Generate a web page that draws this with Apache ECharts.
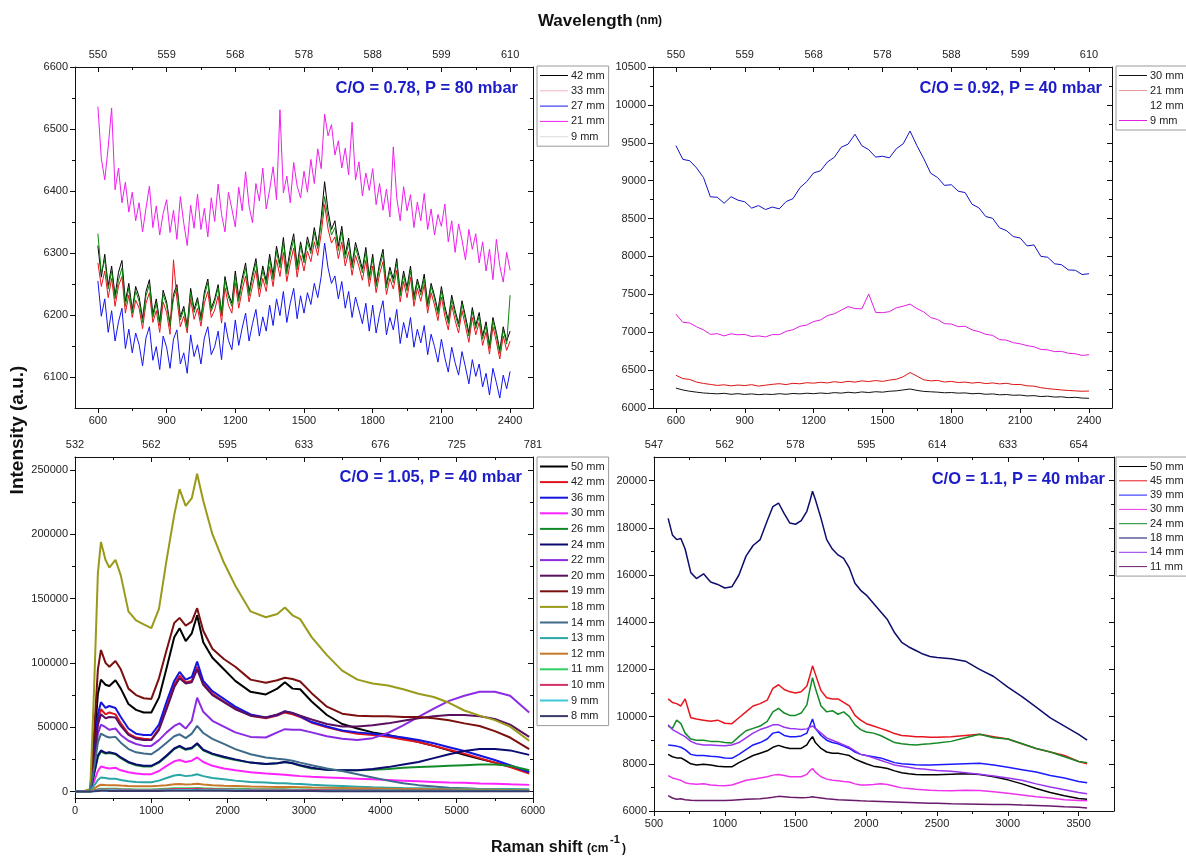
<!DOCTYPE html>
<html>
<head>
<meta charset="utf-8">
<title>Raman spectra</title>
<script src="https://cdn.jsdelivr.net/npm/echarts@6/dist/echarts.min.js"></script>
<style>
  html, body { margin: 0; padding: 0; background: #fff; }
  #chart { width: 1186px; height: 857px; }
</style>
</head>
<body>
<div id="chart"></div>
<script>
// ---------- data ----------
// panel A: C/O = 0.78, P = 80 mbar
const shiftA = [600, 615, 630, 645, 660, 675, 690, 705, 720, 735,
  750, 765, 780, 795, 810, 825, 840, 855, 870, 885,
  900, 915, 930, 945, 960, 975, 990, 1005, 1020, 1035,
  1050, 1065, 1080, 1095, 1110, 1125, 1140, 1155, 1170, 1185,
  1200, 1215, 1230, 1245, 1260, 1275, 1290, 1305, 1320, 1335,
  1350, 1365, 1380, 1395, 1410, 1425, 1440, 1455, 1470, 1485,
  1500, 1515, 1530, 1545, 1560, 1575, 1590, 1605, 1620, 1635,
  1650, 1665, 1680, 1695, 1710, 1725, 1740, 1755, 1770, 1785,
  1800, 1815, 1830, 1845, 1860, 1875, 1890, 1905, 1920, 1935,
  1950, 1965, 1980, 1995, 2010, 2025, 2040, 2055, 2070, 2085,
  2100, 2115, 2130, 2145, 2160, 2175, 2190, 2205, 2220, 2235,
  2250, 2265, 2280, 2295, 2310, 2325, 2340, 2355, 2370, 2385,
  2400];
const a42 = [6312, 6261, 6298, 6247, 6279, 6231, 6269, 6288, 6222, 6251,
  6208, 6246, 6229, 6194, 6238, 6257, 6201, 6226, 6189, 6240,
  6221, 6186, 6233, 6249, 6197, 6214, 6182, 6243, 6209, 6228,
  6196, 6237, 6258, 6211, 6226, 6249, 6203, 6262, 6234, 6219,
  6271, 6228, 6259, 6284, 6237, 6266, 6291, 6246, 6279, 6255,
  6298, 6264, 6311, 6282, 6325, 6272, 6306, 6331, 6279, 6318,
  6289, 6326, 6304, 6341, 6312, 6356, 6415, 6368, 6338, 6352,
  6311, 6343, 6298, 6324, 6281, 6317, 6296, 6274, 6309, 6262,
  6298, 6251, 6283, 6306, 6249, 6277, 6258, 6291, 6236, 6271,
  6244, 6279, 6229, 6258, 6237, 6266, 6218, 6251, 6231, 6206,
  6246, 6214, 6191, 6232, 6207, 6186, 6223, 6198, 6171, 6212,
  6183, 6204, 6166, 6189, 6151, 6196, 6172, 6143, 6181, 6158,
  6174];
const a33 = [6284, 6246, 6271, 6228, 6259, 6214, 6247, 6262, 6203, 6232,
  6196, 6224, 6211, 6178, 6219, 6236, 6188, 6207, 6172, 6221,
  6204, 6169, 6289, 6226, 6181, 6198, 6171, 6226, 6193, 6211,
  6182, 6219, 6238, 6196, 6208, 6231, 6187, 6244, 6216, 6203,
  6252, 6211, 6240, 6263, 6221, 6247, 6272, 6229, 6259, 6238,
  6278, 6246, 6289, 6262, 6301, 6254, 6284, 6308, 6261, 6296,
  6271, 6303, 6286, 6318, 6296, 6331, 6378, 6339, 6316, 6326,
  6291, 6318, 6279, 6302, 6264, 6296, 6278, 6256, 6288, 6246,
  6279, 6236, 6266, 6286, 6233, 6259, 6242, 6272, 6221, 6254,
  6228, 6261, 6214, 6243, 6222, 6249, 6203, 6236, 6216, 6191,
  6229, 6198, 6176, 6216, 6191, 6171, 6207, 6182, 6156, 6196,
  6168, 6188, 6151, 6173, 6137, 6181, 6157, 6129, 6166, 6143,
  6158];
const a27 = [6255, 6198, 6226, 6172, 6207, 6158, 6189, 6211, 6146, 6177,
  6139, 6171, 6152, 6118, 6163, 6181, 6127, 6149, 6112, 6166,
  6148, 6114, 6161, 6176, 6121, 6139, 6106, 6168, 6133, 6152,
  6121, 6163, 6181, 6136, 6149, 6174, 6128, 6188, 6159, 6144,
  6192, 6151, 6179, 6203, 6158, 6186, 6209, 6166, 6197, 6174,
  6216, 6183, 6226, 6199, 6238, 6188, 6219, 6243, 6194, 6231,
  6203, 6236, 6217, 6251, 6228, 6262, 6316, 6276, 6251, 6263,
  6226, 6254, 6211, 6238, 6196, 6229, 6208, 6186, 6219, 6174,
  6216, 6171, 6201, 6223, 6168, 6196, 6176, 6209, 6154, 6188,
  6163, 6196, 6148, 6177, 6155, 6183, 6136, 6169, 6149, 6124,
  6161, 6131, 6108, 6148, 6123, 6103, 6141, 6116, 6089, 6128,
  6101, 6121, 6084, 6106, 6071, 6114, 6091, 6066, 6103, 6081,
  6109];
const a21 = [6536, 6452, 6418, 6471, 6534, 6402, 6437, 6381, 6414, 6366,
  6398, 6352, 6381, 6334, 6372, 6408, 6341, 6376, 6329, 6364,
  6386, 6333, 6369, 6322, 6391, 6348, 6312, 6377, 6340, 6395,
  6338, 6372, 6326, 6389, 6351, 6411, 6362, 6334, 6398, 6371,
  6342, 6406, 6368, 6431, 6376, 6349, 6412, 6384, 6437, 6371,
  6402, 6439, 6386, 6531, 6397, 6424, 6381, 6446, 6408, 6389,
  6432, 6398, 6451, 6412, 6468, 6436, 6524, 6489, 6507, 6458,
  6481, 6437, 6469, 6426, 6511, 6418, 6447, 6392, 6429, 6401,
  6436, 6378, 6412, 6369, 6403, 6358, 6471, 6389, 6352, 6407,
  6368, 6394, 6341, 6382, 6352, 6396, 6338, 6371, 6329, 6362,
  6343, 6379, 6318, 6352, 6301, 6347, 6321, 6289, 6338, 6306,
  6331, 6284, 6318, 6271, 6306, 6257, 6322, 6279, 6253, 6301,
  6272];
const a9 = [6331, 6268, 6289, 6242, 6271, 6226, 6256, 6276, 6214, 6244,
  6203, 6239, 6222, 6188, 6231, 6249, 6196, 6219, 6183, 6233,
  6216, 6181, 6227, 6243, 6192, 6209, 6178, 6237, 6204, 6223,
  6191, 6231, 6252, 6206, 6221, 6244, 6199, 6256, 6229, 6214,
  6263, 6222, 6252, 6276, 6231, 6259, 6284, 6241, 6272, 6249,
  6291, 6257, 6303, 6276, 6317, 6266, 6298, 6322, 6273, 6311,
  6284, 6318, 6299, 6333, 6307, 6348, 6391, 6356, 6329, 6341,
  6304, 6334, 6291, 6316, 6276, 6309, 6289, 6268, 6301, 6257,
  6291, 6246, 6277, 6298, 6244, 6271, 6252, 6284, 6231, 6264,
  6239, 6272, 6224, 6253, 6232, 6259, 6213, 6246, 6226, 6201,
  6239, 6208, 6186, 6226, 6201, 6181, 6218, 6192, 6166, 6206,
  6178, 6198, 6161, 6183, 6146, 6191, 6167, 6138, 6176, 6153,
  6232];

// panel B: C/O = 0.92, P = 40 mbar
const shiftB = [600, 630, 660, 690, 720, 750, 780, 810, 840, 870,
  900, 930, 960, 990, 1020, 1050, 1080, 1110, 1140, 1170,
  1200, 1230, 1260, 1290, 1320, 1350, 1380, 1410, 1440, 1470,
  1500, 1530, 1560, 1590, 1620, 1650, 1680, 1710, 1740, 1770,
  1800, 1830, 1860, 1890, 1920, 1950, 1980, 2010, 2040, 2070,
  2100, 2130, 2160, 2190, 2220, 2250, 2280, 2310, 2340, 2370,
  2400];
const b30 = [6262, 6238, 6221, 6209, 6198, 6192, 6187, 6194, 6181, 6189,
  6179, 6186, 6176, 6183, 6178, 6189, 6181, 6192, 6186, 6195,
  6189, 6198, 6191, 6203, 6196, 6208, 6199, 6212, 6204, 6215,
  6209, 6221, 6226, 6238, 6251, 6232, 6219, 6214, 6209, 6201,
  6204, 6196, 6199, 6188, 6193, 6181, 6186, 6174, 6178, 6168,
  6171, 6159, 6163, 6151, 6156, 6144, 6148, 6137, 6141, 6131,
  6128];
const b21 = [6432, 6388, 6377, 6342, 6324, 6311, 6298, 6306, 6292, 6303,
  6296, 6308, 6289, 6301, 6312, 6321, 6309, 6326, 6319, 6334,
  6328, 6339, 6331, 6347, 6336, 6352, 6341, 6358, 6349, 6362,
  6351, 6368, 6379, 6412, 6468, 6421, 6372, 6358, 6364, 6343,
  6351, 6336, 6342, 6329, 6338, 6322, 6331, 6318, 6326, 6309,
  6311, 6292, 6289, 6268, 6256, 6247, 6238, 6231, 6226, 6221,
  6224];
const b12 = [9462, 9281, 9263, 9168, 9041, 8787, 8781, 8702, 8788, 8743,
  8721, 8638, 8671, 8619, 8652, 8628, 8724, 8763, 8906, 8988,
  9102, 9131, 9246, 9308, 9441, 9482, 9612, 9461, 9409, 9311,
  9322, 9301, 9421, 9486, 9655, 9462, 9289, 9098, 9041, 8938,
  8946, 8861, 8843, 8689, 8641, 8527, 8503, 8378, 8341, 8262,
  8243, 8139, 8152, 8001, 7989, 7903, 7891, 7822, 7818, 7761,
  7772];
const b9 = [7238, 7131, 7122, 7071, 7031, 6972, 6981, 6952, 6979, 6966,
  6971, 6943, 6951, 6938, 6969, 6968, 7012, 7033, 7079, 7094,
  7141, 7162, 7219, 7243, 7291, 7338, 7312, 7309, 7505, 7262,
  7258, 7271, 7322, 7343, 7371, 7312, 7268, 7193, 7168, 7113,
  7108, 7073, 7079, 7032, 7008, 6973, 6958, 6902, 6896, 6862,
  6847, 6823, 6808, 6773, 6767, 6744, 6748, 6722, 6716, 6694,
  6703];

// panel C: C/O = 1.05, P = 40 mbar
const shiftC = [0, 100, 200, 250, 300, 340, 400, 450, 530, 600,
  700, 800, 900, 1000, 1100, 1200, 1300, 1370, 1450, 1530,
  1600, 1680, 1800, 1950, 2100, 2300, 2500, 2650, 2750, 2850,
  2950, 3100, 3300, 3500, 3700, 3900, 4100, 4300, 4500, 4700,
  4900, 5100, 5300, 5500, 5700, 5950];
const c50 = [0, 0, 800, 36000, 76000, 87000, 83000, 82000, 86500, 80000,
  68000, 63500, 61500, 61500, 73000, 96000, 120000, 127000, 117000, 123000,
  137000, 116000, 104000, 95000, 86000, 77500, 75500, 80000, 85000, 80000,
  79500, 70000, 59500, 52500, 49000, 46000, 44000, 41500, 38500, 35500,
  32000, 28500, 25500, 22500, 19500, 15500];
const c42 = [0, 0, 500, 25000, 55000, 64000, 60000, 61500, 60000, 53000,
  45000, 42000, 41000, 40500, 49000, 66000, 83000, 90000, 85000, 86000,
  97000, 84000, 76000, 70000, 64500, 59000, 57000, 59000, 61500, 60000,
  58000, 53500, 50000, 47000, 45000, 44000, 42500, 40500, 38500, 35500,
  32500, 29500, 26000, 22500, 19000, 14000];
const c36 = [0, 0, 600, 28000, 60000, 69500, 65000, 66500, 65000, 58000,
  49000, 45000, 44000, 44000, 52000, 70000, 86000, 93000, 87000, 89000,
  101000, 86000, 78000, 72000, 66000, 60000, 57500, 59500, 62500, 61000,
  58500, 54000, 50500, 47500, 46000, 45000, 43500, 42000, 40000, 37500,
  34500, 31500, 28000, 24500, 20500, 15000];
const c30 = [0, 0, 200, 8000, 16000, 19500, 18500, 18000, 18500, 16500,
  15000, 14000, 13500, 13500, 16000, 20000, 23500, 24500, 23000, 24000,
  26500, 23000, 20000, 18000, 16500, 15000, 14000, 13500, 13000, 12500,
  12000, 11500, 11000, 10500, 10000, 9500, 9000, 8500, 8000, 7500,
  7000, 6800, 6300, 6000, 5600, 5200];
const c26 = [0, 0, 300, 13500, 27000, 31000, 29500, 30000, 29000, 26000,
  22500, 20500, 19500, 19500, 22500, 27500, 33000, 35000, 32500, 33500,
  37000, 32000, 29000, 26500, 24500, 22500, 21500, 22000, 23000, 22000,
  20000, 18000, 17000, 16500, 16500, 17000, 17500, 18500, 19000, 19500,
  20000, 20500, 21000, 21000, 20000, 16500];
const c24 = [0, 0, 300, 14000, 28000, 32000, 30000, 30500, 29500, 26500,
  23000, 21000, 20000, 20000, 23000, 28000, 33500, 35500, 33000, 34000,
  37500, 32500, 29500, 27000, 25000, 22500, 21500, 22000, 23000, 22000,
  20500, 18500, 17000, 16500, 16500, 17500, 19000, 21000, 23000, 26000,
  29000, 31500, 33000, 33000, 32000, 28500];
const c22 = [0, 0, 500, 22000, 45000, 52000, 50000, 48000, 49000, 44000,
  39500, 37000, 35500, 35500, 40000, 46000, 51000, 53000, 49000, 55000,
  73000, 62000, 55000, 50500, 46000, 42500, 42000, 46000, 48500, 48000,
  48000, 46000, 43000, 41000, 40000, 41500, 45500, 51500, 58000, 64500,
  70500, 74500, 77500, 77500, 74500, 61500];
const c20 = [0, 0, 500, 23000, 52000, 60000, 57000, 58000, 57500, 51000,
  44000, 41000, 40000, 40000, 48000, 64000, 81000, 88000, 84000, 85000,
  95000, 83000, 75000, 69500, 64000, 59000, 57500, 60000, 62000, 61000,
  59000, 56000, 52500, 50500, 50500, 51500, 53000, 55000, 57000, 58500,
  59500, 59500, 58500, 56500, 52000, 42500];
const c19 = [0, 0, 1000, 45000, 95000, 110000, 100000, 97000, 101500, 95000,
  80000, 75000, 72500, 72000, 88000, 110000, 131000, 135000, 129000, 132000,
  142500, 125000, 111000, 103000, 97000, 87000, 84500, 86500, 88500, 87500,
  85500, 76500, 66000, 60500, 59000, 58500, 58500, 58000, 58000, 57000,
  55500, 53000, 51000, 47000, 42000, 33000];
const c18 = [0, 0, 2000, 80000, 170000, 194000, 180000, 174000, 180000, 168000,
  140000, 133000, 130000, 127000, 142000, 180000, 215000, 235000, 222000, 228000,
  247000, 226000, 200000, 178000, 160000, 140000, 135500, 138000, 143000, 137000,
  134000, 120000, 106000, 94000, 87000, 84000, 82500, 79500, 76000, 73500,
  69000, 63000, 59000, 55500, 50500, 39500];
const c14 = [0, 0, 400, 18000, 38000, 45000, 43000, 42000, 42500, 38000,
  33000, 30500, 29500, 29000, 33000, 38000, 43000, 44500, 41500, 45000,
  51000, 45500, 41000, 37000, 33000, 29000, 26500, 25500, 25000, 24000,
  22500, 20500, 18000, 16000, 13500, 11000, 8500, 6500, 5000, 4000,
  3000, 2500, 2000, 1800, 1500, 1300];
const c13 = [0, 0, 100, 4500, 9000, 11000, 10500, 10000, 10000, 9000,
  8000, 7500, 7200, 7200, 8500, 10500, 12500, 13000, 12000, 12500,
  13500, 12000, 10500, 9500, 8500, 7500, 7000, 6500, 6500, 6000,
  5800, 5300, 4800, 4300, 3800, 3300, 3000, 2700, 2500, 2300,
  2200, 2100, 2000, 2000, 1900, 1800];
const c12 = [0, 0, 50, 2200, 4300, 5300, 5100, 5000, 5000, 4700,
  4400, 4200, 4100, 4100, 4500, 5000, 5600, 5800, 5500, 5600,
  6000, 5500, 5000, 4600, 4300, 3900, 3700, 3600, 3600, 3500,
  3400, 3200, 3000, 2800, 2600, 2400, 2200, 2000, 1900, 1800,
  1700, 1600, 1500, 1400, 1300, 1300];
const c11 = [0, 0, 30, 900, 1800, 2200, 2100, 2100, 2100, 1900,
  1800, 1700, 1700, 1700, 1900, 2200, 2500, 2600, 2500, 2500,
  2700, 2500, 2300, 2200, 2100, 1900, 1800, 1800, 1800, 1700,
  1700, 1600, 1500, 1400, 1300, 1200, 1200, 1100, 1100, 1000,
  1000, 1000, 900, 900, 900, 800];
const c10 = [0, 0, 20, 700, 1400, 1700, 1600, 1600, 1600, 1500,
  1400, 1300, 1300, 1300, 1500, 1700, 1900, 2000, 1900, 1900,
  2100, 1900, 1800, 1700, 1600, 1500, 1400, 1400, 1400, 1300,
  1300, 1200, 1200, 1100, 1000, 1000, 900, 900, 800, 800,
  800, 700, 700, 700, 600, 600];
const c9 = [0, 0, 10, 400, 900, 1100, 1000, 1000, 1000, 900,
  900, 800, 800, 800, 900, 1100, 1200, 1300, 1200, 1200,
  1300, 1200, 1100, 1000, 1000, 900, 900, 800, 800, 800,
  800, 700, 700, 700, 600, 600, 600, 500, 500, 500,
  500, 500, 400, 400, 400, 400];
const c8 = [0, 0, 10, 200, 500, 600, 600, 500, 500, 500,
  500, 400, 400, 400, 500, 600, 700, 700, 700, 700,
  800, 700, 600, 600, 500, 500, 500, 400, 400, 400,
  400, 400, 300, 300, 300, 300, 300, 300, 200, 200,
  200, 200, 200, 200, 200, 200];

// panel D: C/O = 1.1, P = 40 mbar
const shiftD = [600, 630, 660, 690, 720,
  760, 800, 850, 900, 950,
  1000, 1050, 1100, 1150, 1200,
  1250, 1300, 1340, 1380, 1420,
  1460, 1500, 1540, 1580, 1600,
  1620, 1640, 1680, 1720, 1760,
  1800, 1840, 1880, 1920, 1960,
  2000, 2050, 2100, 2150, 2200,
  2250, 2300, 2350, 2400, 2450,
  2500, 2600, 2700, 2800, 2900,
  3000, 3100, 3200, 3300, 3400,
  3500, 3560];
const d50 = [8400, 8300, 8250, 8250, 8150,
  8000, 7950, 7980, 7950, 7900,
  7870, 7870, 8050, 8200, 8350,
  8450, 8550, 8700, 8780, 8700,
  8650, 8650, 8650, 8800, 9000,
  9150, 8900, 8650, 8500, 8450,
  8450, 8400, 8350, 8200, 8100,
  8000, 7900, 7850, 7800, 7700,
  7620, 7580, 7550, 7540, 7540,
  7540, 7560, 7580, 7550, 7450,
  7320, 7150, 6950, 6780, 6650,
  6530, 6500];
const d45 = [10750, 10600, 10550, 10450, 10750,
  9950, 9900, 9850, 9800, 9850,
  9720, 9700, 9950, 10200, 10450,
  10550, 10700, 11200, 11350, 11150,
  11050, 11000, 11050, 11300, 11700,
  12150, 11800, 11100, 10800, 10750,
  10750, 10600, 10450, 10050, 9850,
  9700, 9600, 9500, 9400, 9280,
  9200, 9180, 9150, 9150, 9130,
  9120, 9150, 9200, 9250, 9150,
  9050, 8850, 8650, 8500, 8350,
  8100, 8000];
const d39 = [8800, 8780, 8750, 8700, 8600,
  8400, 8350, 8350, 8320, 8300,
  8250, 8230, 8400, 8600, 8800,
  8900, 9050, 9300, 9350, 9200,
  9150, 9150, 9180, 9300, 9600,
  9900, 9500, 9200, 9000, 8900,
  8850, 8750, 8650, 8500, 8400,
  8350, 8300, 8250, 8150, 8050,
  8000, 7980, 7960, 7950, 7950,
  7960, 7980, 8000, 8020, 7950,
  7850, 7750, 7650, 7500, 7400,
  7250, 7200];
const d30 = [7500, 7400, 7350, 7300, 7200,
  7150, 7130, 7150, 7100, 7080,
  7070, 7100, 7200, 7300, 7350,
  7400, 7450, 7520, 7550, 7500,
  7450, 7450, 7450, 7550, 7700,
  7800, 7650, 7450, 7350, 7300,
  7280, 7250, 7230, 7150, 7100,
  7100, 7120, 7150, 7120, 7050,
  6980, 6950, 6920, 6900, 6880,
  6870, 6860, 6880, 6870, 6820,
  6750, 6680, 6600, 6550, 6480,
  6450, 6430];
const d24 = [9600, 9500, 9850, 9700, 9300,
  9050, 9000, 9000, 8950, 8950,
  8900, 8880, 9150, 9400, 9500,
  9600, 9800, 10200, 10350, 10150,
  10050, 10050, 10150, 10500, 11100,
  11650, 11200, 10450, 10200, 10250,
  10100, 10200, 10000, 9650, 9450,
  9350, 9300, 9200, 9050, 8900,
  8850, 8820, 8800, 8830, 8850,
  8880, 8950, 9100, 9250, 9100,
  9050, 8850, 8650, 8500, 8300,
  8100, 8050];
const d18 = [18400, 17700, 17500, 17550, 17100,
  16100, 15850, 16050, 15700, 15600,
  15450, 15500, 16000, 16800, 17250,
  17500, 18300, 18900, 19050, 18600,
  18200, 18150, 18300, 18700, 19100,
  19550, 19200, 18400, 17500, 17100,
  16850, 16700, 16300, 15650, 15350,
  15150, 14800, 14450, 14100, 13550,
  13150, 12950, 12800, 12650, 12550,
  12500, 12450, 12350, 12000, 11700,
  11250, 10850, 10400, 9950, 9600,
  9250, 9000];
const d14 = [9650, 9450, 9350, 9250, 9150,
  8950, 8850, 8800, 8800, 8780,
  8760, 8800, 8900, 9100, 9300,
  9450, 9550, 9650, 9650, 9550,
  9500, 9480, 9450, 9480, 9550,
  9600, 9500, 9300, 9100, 9000,
  8900, 8800, 8700, 8550, 8400,
  8350, 8250, 8150, 8050, 7950,
  7900, 7850, 7800, 7780, 7750,
  7720, 7680, 7620, 7560, 7480,
  7400, 7300, 7150, 7020, 6900,
  6780, 6730];
const d11 = [6650, 6550, 6500, 6520, 6480,
  6460, 6450, 6440, 6440, 6450,
  6440, 6460, 6480, 6500, 6510,
  6520, 6550, 6580, 6620, 6600,
  6580, 6570, 6560, 6570, 6580,
  6600, 6580, 6550, 6520, 6500,
  6480, 6470, 6460, 6450, 6430,
  6420, 6410, 6400, 6390, 6380,
  6370, 6360, 6350, 6340, 6330,
  6330, 6310, 6300, 6290, 6280,
  6280, 6250, 6230, 6210, 6180,
  6160, 6130];

// tick labels
const ticksAB = [600, 900, 1200, 1500, 1800, 2100, 2400];
const waveAB = ['550', '559', '568', '578', '588', '599', '610'];
const ticksC = [0, 1000, 2000, 3000, 4000, 5000, 6000];
const waveC = ['532', '562', '595', '633', '676', '725', '781'];
const ticksD = [500, 1000, 1500, 2000, 2500, 3000, 3500];
const waveD = ['547', '562', '578', '595', '614', '633', '654'];
const yTicksA = [6100, 6200, 6300, 6400, 6500, 6600];
const yTicksB = [6000, 6500, 7000, 7500, 8000, 8500, 9000, 9500, 10000, 10500];
const yTicksC = [0, 50000, 100000, 150000, 200000, 250000];
const yTicksD = [6000, 8000, 10000, 12000, 14000, 16000, 18000, 20000];

// ---------- layout ----------
const FONT = "'Liberation Sans', Arial, Helvetica, sans-serif";
const INK = '#111';

// legend icons that are drawn faintly in the original figure
const faintKey = { 'A|33 mm': '#f3b5bd', 'A|9 mm': '#dcdcdc', 'B|21 mm': '#e79a9a', 'B|12 mm': '#ffffff' };

const panels = [
  {
    tag: 'A', grid: { left: 75, top: 67, width: 458, height: 341 },
    x: [500, 2500], xTicks: ticksAB, wave: waveAB,
    y: [6050, 6600], yTicks: yTicksA,
    legend: { left: 537, top: 66, gap: 2.3 }, width: 1,
    note: { text: 'C/O = 0.78, P = 80 mbar', x: 518, y: 88 },
    lines: [
      ['42 mm', '#000000', shiftA, a42],
      ['33 mm', '#e8141e', shiftA, a33],
      ['27 mm', '#1414f0', shiftA, a27],
      ['21 mm', '#ee1fee', shiftA, a21],
      ['9 mm', '#0b860b', shiftA, a9],
    ],
  },
  {
    tag: 'B', grid: { left: 653, top: 67, width: 459, height: 341 },
    x: [500, 2500], xTicks: ticksAB, wave: waveAB,
    y: [6000, 10500], yTicks: yTicksB,
    legend: { left: 1116, top: 66, gap: 2 }, width: 1,
    note: { text: 'C/O = 0.92, P = 40 mbar', x: 1102, y: 88 },
    lines: [
      ['30 mm', '#111111', shiftB, b30],
      ['21 mm', '#dd1414', shiftB, b21],
      ['12 mm', '#1212c4', shiftB, b12],
      ['9 mm', '#e01fe0', shiftB, b9],
    ],
  },
  {
    tag: 'C', grid: { left: 75, top: 457, width: 458, height: 341 },
    x: [0, 6000], xTicks: ticksC, wave: waveC,
    y: [-5000, 260000], yTicks: yTicksC,
    legend: { left: 537, top: 457, gap: 2.6 }, width: 2,
    note: { text: 'C/O = 1.05, P = 40 mbar', x: 522, y: 477 },
    lines: [
      ['50 mm', '#000000', shiftC, c50],
      ['42 mm', '#e0141e', shiftC, c42],
      ['36 mm', '#1515e0', shiftC, c36],
      ['30 mm', '#ff22ff', shiftC, c30],
      ['26 mm', '#138a2a', shiftC, c26],
      ['24 mm', '#0a0a70', shiftC, c24],
      ['22 mm', '#8b2be2', shiftC, c22],
      ['20 mm', '#5a0f5f', shiftC, c20],
      ['19 mm', '#7a0f10', shiftC, c19],
      ['18 mm', '#9a9a1a', shiftC, c18],
      ['14 mm', '#3e6a8a', shiftC, c14],
      ['13 mm', '#2aa6a6', shiftC, c13],
      ['12 mm', '#c8782a', shiftC, c12],
      ['11 mm', '#2fcf5f', shiftC, c11],
      ['10 mm', '#d4306a', shiftC, c10],
      ['9 mm', '#3ec8d8', shiftC, c9],
      ['8 mm', '#3a3a6a', shiftC, c8],
    ],
  },
  {
    tag: 'D', grid: { left: 654, top: 457, width: 460, height: 354 },
    x: [500, 3750], xTicks: ticksD, wave: waveD,
    y: [6000, 21000], yTicks: yTicksD,
    legend: { left: 1116, top: 457, gap: 1.3 }, width: 1.5,
    note: { text: 'C/O = 1.1, P = 40 mbar', x: 1105, y: 479 },
    lines: [
      ['50 mm', '#000000', shiftD, d50],
      ['45 mm', '#e8141e', shiftD, d45],
      ['39 mm', '#1a1aff', shiftD, d39],
      ['30 mm', '#ee33ee', shiftD, d30],
      ['24 mm', '#138a25', shiftD, d24],
      ['18 mm', '#0d0d6d', shiftD, d18],
      ['14 mm', '#9933ee', shiftD, d14],
      ['11 mm', '#6a1a6a', shiftD, d11],
    ],
  },
];

function midpoints(ticks, lo, hi) {
  const out = [];
  const step = ticks[1] - ticks[0];
  for (let i = 0; i <= ticks.length; i++) {
    const v = ticks[0] + (i - 0.5) * step;
    if (v > lo && v < hi) out.push(v);
  }
  return out;
}

const labelStyle = { color: '#222', fontSize: 11, fontFamily: FONT };

// every side gets a major and a minor axis, ticks out on bottom/left, in on top/right
function sideAxes(g, range, major, minor, pos, withLabels, formatter) {
  const inside = pos === 'top' || pos === 'right';
  const base = {
    type: 'value', gridIndex: g, position: pos, min: range[0], max: range[1],
    splitLine: { show: false }, silent: true,
  };
  return [
    Object.assign({}, base, {
      axisLine: { show: true, onZero: false, lineStyle: { color: INK, width: 1 } },
      axisTick: { show: true, inside, length: 5, customValues: major, lineStyle: { color: INK } },
      axisLabel: withLabels
        ? Object.assign({ show: true, margin: 7, customValues: major, formatter }, labelStyle)
        : { show: false },
    }),
    Object.assign({}, base, {
      axisLine: { show: false, onZero: false },
      axisTick: { show: true, inside, length: 3, customValues: minor, lineStyle: { color: INK } },
      axisLabel: { show: false },
    }),
  ];
}

const grids = [], xAxes = [], yAxes = [], series = [], legends = [], graphics = [];

panels.forEach((p, g) => {
  grids.push(Object.assign({ outerBoundsMode: 'none', containLabel: false }, p.grid));

  const xMinor = midpoints(p.xTicks, p.x[0], p.x[1]);
  const yMinor = midpoints(p.yTicks, p.y[0], p.y[1]);
  const waveOf = (v) => p.wave[p.xTicks.indexOf(v)];

  xAxes.push(...sideAxes(g, p.x, p.xTicks, xMinor, 'bottom', true, (v) => String(v)));
  xAxes.push(...sideAxes(g, p.x, p.xTicks, xMinor, 'top', true, waveOf));
  yAxes.push(...sideAxes(g, p.y, p.yTicks, yMinor, 'left', true, (v) => String(v)));
  yAxes.push(...sideAxes(g, p.y, p.yTicks, yMinor, 'right', false));

  const keys = [];
  p.lines.forEach(([name, color, xs, ys]) => {
    const id = p.tag + '|' + name;
    keys.push(faintKey[id] ? { name: id, itemStyle: { color: faintKey[id] } } : { name: id });
    series.push({
      type: 'line', name: id,
      xAxisIndex: g * 4, yAxisIndex: g * 4,
      data: xs.map((x, i) => [x, ys[i]]),
      symbol: 'none', showSymbol: false,
      lineStyle: { color, width: p.width },
      itemStyle: { color },
      emphasis: { disabled: true },
      silent: true,
      animation: false,
    });
  });

  legends.push({
    left: p.legend.left, top: p.legend.top,
    orient: 'vertical', data: keys, selectedMode: false,
    formatter: (n) => n.split('|')[1],
    icon: 'rect', itemWidth: 28, itemHeight: p.width > 1.5 ? 2 : 1,
    backgroundColor: '#fff', borderColor: '#9a9a9a', borderWidth: 1,
    padding: [3, 4, 3, 3], itemGap: p.legend.gap,
    textStyle: { color: '#222', fontSize: 11, lineHeight: 13, fontFamily: FONT, padding: [0, 0, 0, -2] },
  });

  graphics.push({
    type: 'text', x: p.note.x, y: p.note.y, silent: true,
    style: {
      text: p.note.text, align: 'right', verticalAlign: 'middle',
      fill: '#1c1cc8', font: 'bold 16.5px ' + FONT,
    },
  });
});

graphics.push(
  {
    type: 'text', x: 600, y: 21, silent: true,
    style: {
      text: '{a|Wavelength} {b|(nm)}', align: 'center', verticalAlign: 'middle', fill: INK,
      rich: {
        a: { fontSize: 17, fontWeight: 'bold', fontFamily: FONT, fill: INK, color: INK },
        b: { fontSize: 12, fontWeight: 'bold', fontFamily: FONT, fill: INK, color: INK },
      },
    },
  },
  {
    type: 'text', x: 18, y: 430, rotation: Math.PI / 2, silent: true,
    style: {
      text: 'Intensity (a.u.)', align: 'center', verticalAlign: 'middle',
      fill: INK, font: 'bold 19px ' + FONT,
    },
  },
  {
    type: 'text', x: 491, y: 848, silent: true,
    style: { text: 'Raman shift', align: 'left', verticalAlign: 'middle', fill: INK, font: 'bold 16px ' + FONT },
  },
  {
    type: 'text', x: 587, y: 849, silent: true,
    style: { text: '(cm', align: 'left', verticalAlign: 'middle', fill: INK, font: 'bold 12px ' + FONT },
  },
  {
    type: 'text', x: 610, y: 840, silent: true,
    style: { text: '-1', align: 'left', verticalAlign: 'middle', fill: INK, font: 'bold 11px ' + FONT },
  },
  {
    type: 'text', x: 622, y: 849, silent: true,
    style: { text: ')', align: 'left', verticalAlign: 'middle', fill: INK, font: 'bold 12px ' + FONT },
  }
);

const chart = echarts.init(document.getElementById('chart'), null, { renderer: 'canvas' });
chart.setOption({
  animation: false,
  backgroundColor: '#ffffff',
  textStyle: { fontFamily: FONT },
  grid: grids,
  xAxis: xAxes,
  yAxis: yAxes,
  legend: legends,
  series,
  graphic: graphics,
});
</script>
</body>
</html>
